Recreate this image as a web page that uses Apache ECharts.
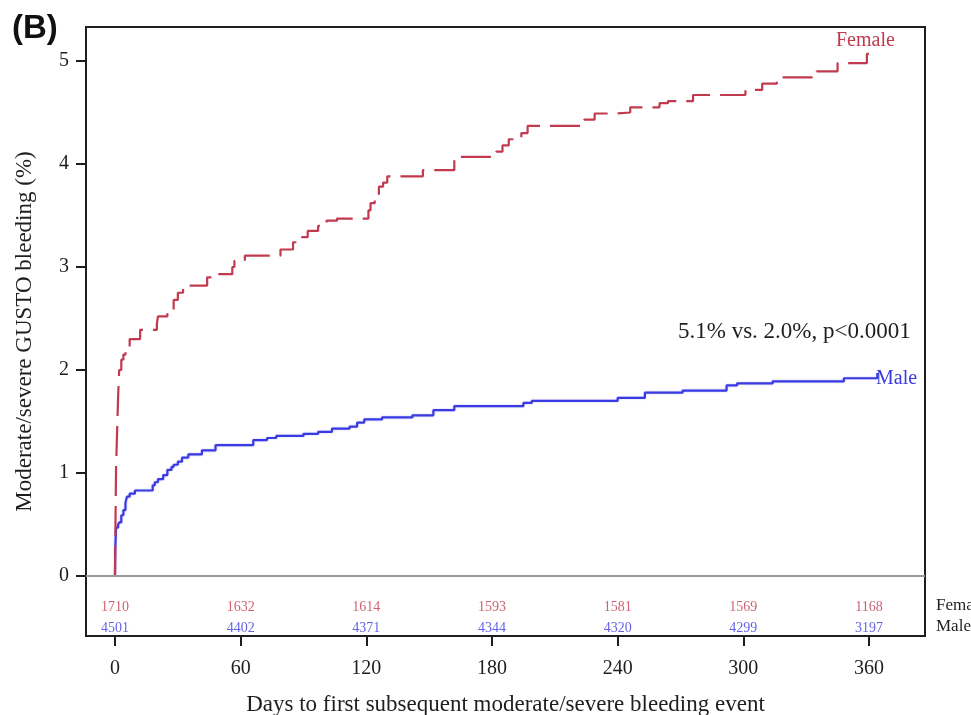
<!DOCTYPE html>
<html>
<head>
<meta charset="utf-8">
<script src="https://cdn.jsdelivr.net/npm/echarts@6/dist/echarts.min.js"></script>
<style>
  html, body { margin: 0; padding: 0; background: #ffffff; }
  #chart { width: 971px; height: 715px; }
</style>
</head>
<body>
<div id="chart"></div>
<script>
// Cumulative incidence of moderate/severe GUSTO bleeding (%), [day, value] at each step
const femaleSteps = [
  [0, 0], [0.2, 0.45], [0.5, 1.05], [1, 1.4], [1.5, 1.75], [2, 2.0], [3, 2.1], [4, 2.15],
  [5, 2.22], [7, 2.30], [12, 2.39], [20, 2.45], [20.5, 2.52], [25, 2.57], [28, 2.68],
  [30, 2.75], [32.5, 2.82], [44, 2.90], [48, 2.93], [56, 3.0], [57, 3.06], [62, 3.11],
  [79, 3.17], [85, 3.24], [87, 3.29], [92, 3.35], [97, 3.40], [101, 3.45], [106, 3.47],
  [121, 3.55], [122, 3.62], [124, 3.70], [126, 3.78], [128, 3.82], [130, 3.88], [147, 3.94],
  [162, 4.07], [182, 4.12], [185, 4.18], [188, 4.24], [194, 4.30], [197, 4.37], [224, 4.43],
  [229, 4.49], [239, 4.50], [246, 4.55], [260, 4.59], [264, 4.61], [276, 4.67], [301, 4.72],
  [309, 4.78], [316, 4.84], [335, 4.90], [345, 4.98], [359, 5.07], [364, 5.07]
];
const maleSteps = [
  [0, 0], [0.1, 0.25], [0.5, 0.47], [1.5, 0.50], [2, 0.52], [3, 0.59], [4, 0.64], [5, 0.71],
  [5.7, 0.77], [7, 0.80], [9.5, 0.83], [18, 0.88], [19, 0.91], [20.5, 0.94], [23, 0.98],
  [25, 1.03], [27, 1.06], [28, 1.08], [30, 1.11], [32, 1.15], [35, 1.18], [41.5, 1.22],
  [48, 1.27], [66, 1.32], [72.6, 1.34], [77, 1.36], [90, 1.38], [97, 1.40], [103.6, 1.43],
  [112, 1.45], [115.6, 1.49], [119, 1.52], [127.5, 1.54], [142, 1.56], [152, 1.61],
  [162, 1.65], [195, 1.68], [199, 1.70], [240, 1.73], [253, 1.78], [271, 1.80], [292, 1.85],
  [297, 1.87], [314, 1.89], [348, 1.92], [364, 1.97]
];

// Number at risk
const riskDays = [0, 60, 120, 180, 240, 300, 360];
const femaleAtRisk = [1710, 1632, 1614, 1593, 1581, 1569, 1168];
const maleAtRisk = [4501, 4402, 4371, 4344, 4320, 4299, 3197];

// Axis ticks and text
const xTicks = [0, 60, 120, 180, 240, 300, 360];
const yTicks = [0, 1, 2, 3, 4, 5];
const groupNames = ['Female', 'Male'];
const comparisonText = '5.1% vs. 2.0%, p<0.0001';
const panelLabel = '(B)';
const xAxisName = 'Days to first subsequent moderate/severe bleeding event';
const yAxisName = 'Moderate/severe GUSTO bleeding (%)';

// Styling
const FEMALE_COLOR = '#c23a4e';
const MALE_COLOR = '#3a3ae2';
const INK = '#1e1e1e';
const SERIF = '"Liberation Serif", "DejaVu Serif", serif';

// Axis extents leave room for the at-risk table under the zero line
const X_MIN = -13.85, X_MAX = 386.74;
const Y_MIN = -0.5825, Y_MAX = 5.33;
const FEMALE_ROW_Y = -0.30;
const MALE_ROW_Y = -0.505;

function riskSeries(name, counts, rowY, color) {
  return {
    name: name + ' at risk',
    type: 'scatter',
    silent: true,
    symbolSize: 0,
    data: riskDays.map((d, i) => [d, rowY, counts[i]]),
    label: {
      show: true,
      position: 'inside',
      formatter: p => String(p.value[2]),
      color: color,
      fontFamily: SERIF,
      fontSize: 14
    },
    z: 5
  };
}

const chart = echarts.init(document.getElementById('chart'), null, { renderer: 'canvas' });

chart.setOption({
  backgroundColor: '#ffffff',
  animation: false,
  grid: {
    left: 86, top: 27, width: 839, height: 609,
    outerBoundsMode: 'none',
    containLabel: false,
    show: true, borderColor: INK, borderWidth: 2, backgroundColor: 'transparent'
  },
  xAxis: {
    type: 'value',
    min: X_MIN, max: X_MAX,
    name: xAxisName,
    nameLocation: 'middle',
    nameGap: 57,
    nameTextStyle: { fontFamily: SERIF, fontSize: 23, color: INK },
    axisLine: { show: true, onZero: false, lineStyle: { color: INK, width: 2 } },
    axisTick: { show: true, length: 10, lineStyle: { color: INK, width: 2 }, customValues: xTicks },
    axisLabel: { margin: 23, fontFamily: SERIF, fontSize: 20, color: INK, customValues: xTicks },
    splitLine: { show: false }
  },
  yAxis: {
    type: 'value',
    min: Y_MIN, max: Y_MAX,
    name: yAxisName,
    nameLocation: 'middle',
    nameGap: 50,
    nameRotate: 90,
    nameTextStyle: { fontFamily: SERIF, fontSize: 23, color: INK },
    axisLine: { show: true, onZero: false, lineStyle: { color: INK, width: 2 } },
    axisTick: { show: true, length: 10, lineStyle: { color: INK, width: 2 }, customValues: yTicks },
    axisLabel: { margin: 17, fontFamily: SERIF, fontSize: 20, color: INK, customValues: yTicks },
    splitLine: { show: false }
  },
  series: [
    {
      name: groupNames[1],
      type: 'line',
      step: 'end',
      showSymbol: false,
      silent: true,
      data: maleSteps,
      lineStyle: { color: MALE_COLOR, width: 2.2, shadowColor: 'rgba(80,80,240,0.35)', shadowBlur: 2 },
      markLine: {
        silent: true,
        symbol: 'none',
        label: { show: false },
        lineStyle: { color: '#9a9a9a', width: 2, type: 'solid' },
        data: [{ yAxis: 0 }]
      },
      z: 3
    },
    {
      name: groupNames[0],
      type: 'line',
      step: 'end',
      showSymbol: false,
      silent: true,
      data: femaleSteps,
      lineStyle: { color: FEMALE_COLOR, width: 2.2, type: [30, 10] },
      z: 4
    },
    riskSeries(groupNames[0], femaleAtRisk, FEMALE_ROW_Y, FEMALE_COLOR),
    riskSeries(groupNames[1], maleAtRisk, MALE_ROW_Y, MALE_COLOR)
  ],
  graphic: [
    { type: 'text', left: 12, top: 12,
      style: { text: panelLabel, font: 'bold 33px "Liberation Sans", Arial, sans-serif', fill: '#111' } },
    { type: 'text', left: 836, top: 31,
      style: { text: groupNames[0], font: '20px ' + SERIF, fill: FEMALE_COLOR } },
    { type: 'text', left: 876, top: 369,
      style: { text: groupNames[1], font: '20px ' + SERIF, fill: MALE_COLOR } },
    { type: 'text', left: 678, top: 320,
      style: { text: comparisonText, font: '23px ' + SERIF, fill: INK } },
    { type: 'text', left: 936, top: 597,
      style: { text: groupNames[0], font: '17px ' + SERIF, fill: INK } },
    { type: 'text', left: 936, top: 618,
      style: { text: groupNames[1], font: '17px ' + SERIF, fill: INK } }
  ]
});
</script>
</body>
</html>
